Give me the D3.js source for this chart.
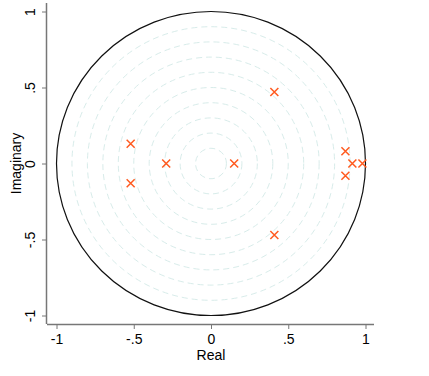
<!DOCTYPE html>
<html>
<head>
<meta charset="utf-8">
<script src="https://cdn.jsdelivr.net/npm/d3@7"></script>
<style>
  body { margin: 0; background: #fff; }
  text { font-family: "Liberation Sans", Arial, sans-serif; }
</style>
</head>
<body>
<svg id="chart" width="429" height="376"></svg>
<script>
const width = 429;
const height = 376;

// roots (real, imaginary)
const realParts = [0.41, 0.41, -0.52, -0.52, -0.29, 0.15, 0.87, 0.87, 0.915, 0.98];
const imagParts = [0.47, -0.47, 0.13, -0.13, 0, 0, 0.08, -0.08, 0, 0];
const tickValues = [-1, -0.5, 0, 0.5, 1];
const tickLabels = ["-1", "-.5", "0", ".5", "1"];
const gridRadii = [0.1, 0.2, 0.3, 0.4, 0.5, 0.6, 0.7, 0.8, 0.9];

const data = realParts.map((r, i) => ({ re: r, im: imagParts[i] }));

const svg = d3.select("#chart");

const x = d3.scaleLinear().domain([-1, 1]).range([56.5, 365.5]);
const y = d3.scaleLinear().domain([-1, 1]).range([315.5, 11.5]);

const fmt = d => tickLabels[tickValues.indexOf(d)];

// dashed grid circles
svg.append("g")
  .selectAll("ellipse")
  .data(gridRadii)
  .join("ellipse")
    .attr("cx", x(0))
    .attr("cy", y(0))
    .attr("rx", d => x(d) - x(0))
    .attr("ry", d => y(0) - y(d))
    .attr("fill", "none")
    .attr("stroke", "#d8ecea")
    .attr("stroke-width", 1)
    .attr("stroke-dasharray", "6,4");

// unit circle
svg.append("ellipse")
  .attr("cx", x(0))
  .attr("cy", y(0))
  .attr("rx", x(1) - x(0))
  .attr("ry", y(0) - y(1))
  .attr("fill", "none")
  .attr("stroke", "#111")
  .attr("stroke-width", 1.2);

// markers
const s = 4;
svg.append("g")
  .selectAll("path")
  .data(data)
  .join("path")
    .attr("d", d => {
      const cx = x(d.re), cy = y(d.im);
      return `M${cx - s},${cy - s}L${cx + s},${cy + s}M${cx - s},${cy + s}L${cx + s},${cy - s}`;
    })
    .attr("stroke", "#ff5a1f")
    .attr("stroke-width", 1.5)
    .attr("fill", "none");

// x axis
const xAxis = svg.append("g")
  .attr("transform", "translate(0,324)")
  .call(d3.axisBottom(x).tickValues(tickValues).tickFormat(fmt).tickSize(5).tickSizeOuter(0));
xAxis.select(".domain").attr("d", "M47,0.5H374").attr("stroke", "#777").attr("stroke-width", 1.5);
xAxis.selectAll(".tick line").attr("stroke", "#777");
xAxis.selectAll(".tick text").attr("font-size", 14).attr("fill", "#000").attr("dy", "0.85em");

// y axis
const yAxis = svg.append("g")
  .attr("transform", "translate(47,0)")
  .call(d3.axisLeft(y).tickValues(tickValues).tickFormat(fmt).tickSize(5).tickSizeOuter(0));
yAxis.select(".domain").attr("d", "M-0.5,3V324").attr("stroke", "#777").attr("stroke-width", 1.5);
yAxis.selectAll(".tick line").attr("stroke", "#777");
yAxis.selectAll(".tick text")
  .attr("font-size", 14)
  .attr("fill", "#000")
  .attr("x", null)
  .attr("text-anchor", "middle")
  .attr("transform", "translate(-17,0) rotate(-90)")
  .attr("y", 0)
  .attr("dy", "0.35em");

// axis titles
svg.append("text")
  .attr("x", x(0))
  .attr("y", 360)
  .attr("text-anchor", "middle")
  .attr("font-size", 14)
  .text("Real");

svg.append("text")
  .attr("transform", `translate(16,${y(0)}) rotate(-90)`)
  .attr("text-anchor", "middle")
  .attr("dy", "0.35em")
  .attr("font-size", 14)
  .text("Imaginary");
</script>
</body>
</html>
